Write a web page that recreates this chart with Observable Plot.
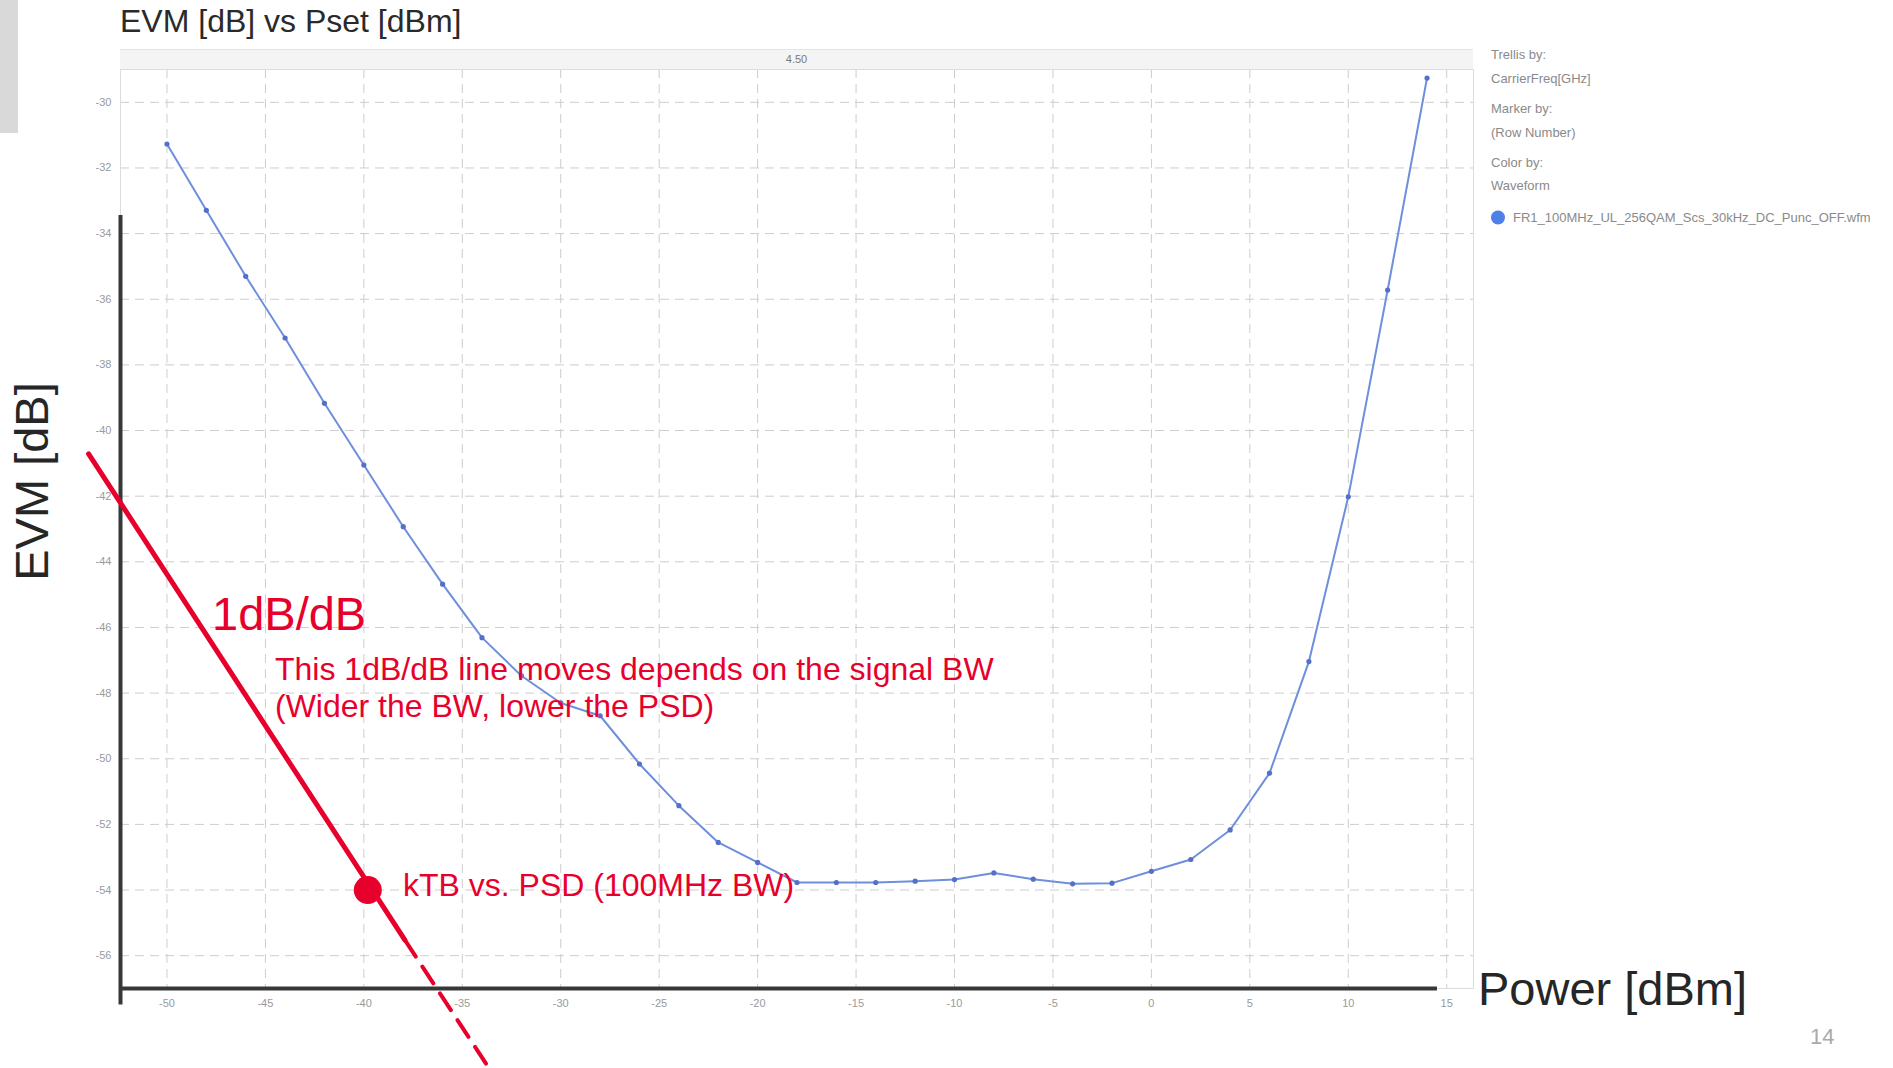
<!DOCTYPE html>
<html>
<head>
<meta charset="utf-8">
<script src="https://cdn.jsdelivr.net/npm/d3@7"></script>
<script src="https://cdn.jsdelivr.net/npm/@observablehq/plot@0.6"></script>
<style>
html, body { margin: 0; padding: 0; background: #fff; }
#wrap { position: relative; width: 1893px; height: 1068px; overflow: hidden; font-family: "Liberation Sans", Arial, sans-serif; }
#wrap > svg, #wrap > div { position: absolute; left: 0; top: 0; }
</style>
</head>
<body>
<div id="wrap"></div>
<script>
// ---- data ----
const powerDbm = [-50, -48, -46, -44, -42, -40, -38, -36, -34, -32, -30, -28, -26, -24, -22, -20, -18, -16, -14, -12, -10, -8, -6, -4, -2, 0, 2, 4, 6, 8, 10, 12, 14];
const evmDb = [-31.27, -33.29, -35.30, -37.18, -39.17, -41.05, -42.93, -44.68, -46.31, -47.47, -48.30, -48.69, -50.16, -51.43, -52.55, -53.16, -53.77, -53.77, -53.77, -53.73, -53.68, -53.48, -53.67, -53.81, -53.79, -53.43, -53.07, -52.17, -50.44, -47.04, -42.02, -35.72, -29.26];
const xTicks = [-50, -45, -40, -35, -30, -25, -20, -15, -10, -5, 0, 5, 10, 15];
const yTicks = [-30, -32, -34, -36, -38, -40, -42, -44, -46, -48, -50, -52, -54, -56];
const xDomain = [-52.36, 16.36];
const yDomain = [-57, -29];
const trellisValue = "4.50";

// 1 dB/dB kTB annotation line (solid part, then dashed extension)
const ktbPower = [-53.98, -37.92, -33.62];
const ktbEvm = [-40.71, -55.52, -59.45];
const ktbMarker = [{ power: -39.8, evm: -54.0 }];

// slide overlay axis bars
const slideAxisV = [{ power: -52.36, evm1: -33.45, evm2: -57.5 }];
const slideAxisH = [{ evm: -57, power1: -52.36, power2: 14.53 }];

// legend texts
const legendLines = ["Trellis by:", "CarrierFreq[GHz]", "Marker by:", "(Row Number)", "Color by:", "Waveform"];
const legendItem = "FR1_100MHz_UL_256QAM_Scs_30kHz_DC_Punc_OFF.wfm";

// ---- build ----
const RED = "#e8002d";
const data = powerDbm.map((p, i) => ({ p, evm: evmDb[i] }));
const ktbSolid = [0, 1].map(i => ({ p: ktbPower[i], evm: ktbEvm[i] }));
const ktbDashed = [1, 2].map(i => ({ p: ktbPower[i], evm: ktbEvm[i] }));

const W = 1893, H = 1068;
const chart = Plot.plot({
  width: W, height: H,
  marginLeft: 120, marginRight: 420, marginTop: 69, marginBottom: 80,
  x: { domain: xDomain, axis: null },
  y: { domain: yDomain, axis: null },
  style: { color: "#9a9a9a", fontFamily: "Liberation Sans, Arial, sans-serif", fontSize: "11px", background: "transparent", overflow: "visible" },
  marks: [
    Plot.gridX(xTicks, { stroke: "#cdcdcd", strokeOpacity: 1, strokeDasharray: "9,6" }),
    Plot.gridY(yTicks, { stroke: "#cdcdcd", strokeOpacity: 1, strokeDasharray: "9,6" }),
    Plot.frame({ stroke: "#dcdcdc" }),
    Plot.axisX(xTicks, { tickSize: 0, tickPadding: 11, tickFormat: d => String(d), label: null, fontSize: 11 }),
    Plot.axisY(yTicks, { tickSize: 0, tickPadding: 9, tickFormat: d => String(d), label: null, fontSize: 11 }),
    Plot.line(data, { x: "p", y: "evm", stroke: "#6d8fdc", strokeWidth: 2 }),
    Plot.dot(data, { x: "p", y: "evm", r: 2.6, fill: "#5570c8" }),
    Plot.ruleX(slideAxisV, { x: "power", y1: "evm1", y2: "evm2", stroke: "#383838", strokeWidth: 4 }),
    Plot.ruleY(slideAxisH, { y: "evm", x1: "power1", x2: "power2", stroke: "#383838", strokeWidth: 4 }),
    Plot.line(ktbSolid, { x: "p", y: "evm", stroke: RED, strokeWidth: 5 }),
    Plot.line(ktbDashed, { x: "p", y: "evm", stroke: RED, strokeWidth: 4, strokeDasharray: "20,12" }),
    Plot.dot(ktbMarker, { x: "power", y: "evm", r: 14, fill: RED })
  ]
});
const wrap = document.getElementById("wrap");

// slide artefact on the left edge
const grayBox = document.createElement("div");
grayBox.style.cssText = "width:18px;height:133px;background:#d9d9d9;";
wrap.appendChild(grayBox);

// trellis header strip
const header = document.createElement("div");
header.style.cssText = "left:120px;top:49px;width:1353px;height:20px;background:#f4f4f4;border-top:1px solid #e4e4e4;box-sizing:border-box;font:11px 'Liberation Sans',Arial,sans-serif;color:#7a7a7a;text-align:center;line-height:19px;";
header.textContent = trellisValue;
wrap.appendChild(header);

wrap.appendChild(chart);

// annotation overlay
const svg = d3.select(wrap).append("svg").attr("width", W).attr("height", H)
  .style("font-family", "'Liberation Sans', Arial, sans-serif").style("pointer-events", "none");

svg.append("text").attr("x", 120).attr("y", 31.5).attr("font-size", 32).attr("fill", "#2a2a2a").text("EVM [dB] vs Pset [dBm]");
svg.append("text").attr("transform", "translate(48,481.5) rotate(-90)").attr("text-anchor", "middle").attr("font-size", 47).attr("fill", "#262626").text("EVM [dB]");
svg.append("text").attr("x", 1478).attr("y", 1005).attr("font-size", 47).attr("fill", "#262626").text("Power [dBm]");
svg.append("text").attr("x", 212).attr("y", 630).attr("font-size", 47).attr("fill", RED).text("1dB/dB");
svg.append("text").attr("x", 275).attr("y", 680).attr("font-size", 32).attr("fill", RED).text("This 1dB/dB line moves depends on the signal BW");
svg.append("text").attr("x", 275).attr("y", 717).attr("font-size", 32).attr("fill", RED).text("(Wider the BW, lower the PSD)");
svg.append("text").attr("x", 403).attr("y", 896).attr("font-size", 32).attr("fill", RED).text("kTB vs. PSD (100MHz BW)");
svg.append("text").attr("x", 1810).attr("y", 1044).attr("font-size", 22).attr("fill", "#aaaaaa").text("14");

// legend
const legendBaselines = [59, 83, 113, 137, 167, 190];
legendLines.forEach((t, i) => {
  svg.append("text").attr("x", 1491).attr("y", legendBaselines[i]).attr("font-size", 13).attr("fill", "#8a8a8a").text(t);
});
svg.append("circle").attr("cx", 1498).attr("cy", 217.5).attr("r", 7).attr("fill", "#4f7fe8");
svg.append("text").attr("x", 1513).attr("y", 222).attr("font-size", 13).attr("fill", "#8a8a8a").text(legendItem);
</script>
</body>
</html>
